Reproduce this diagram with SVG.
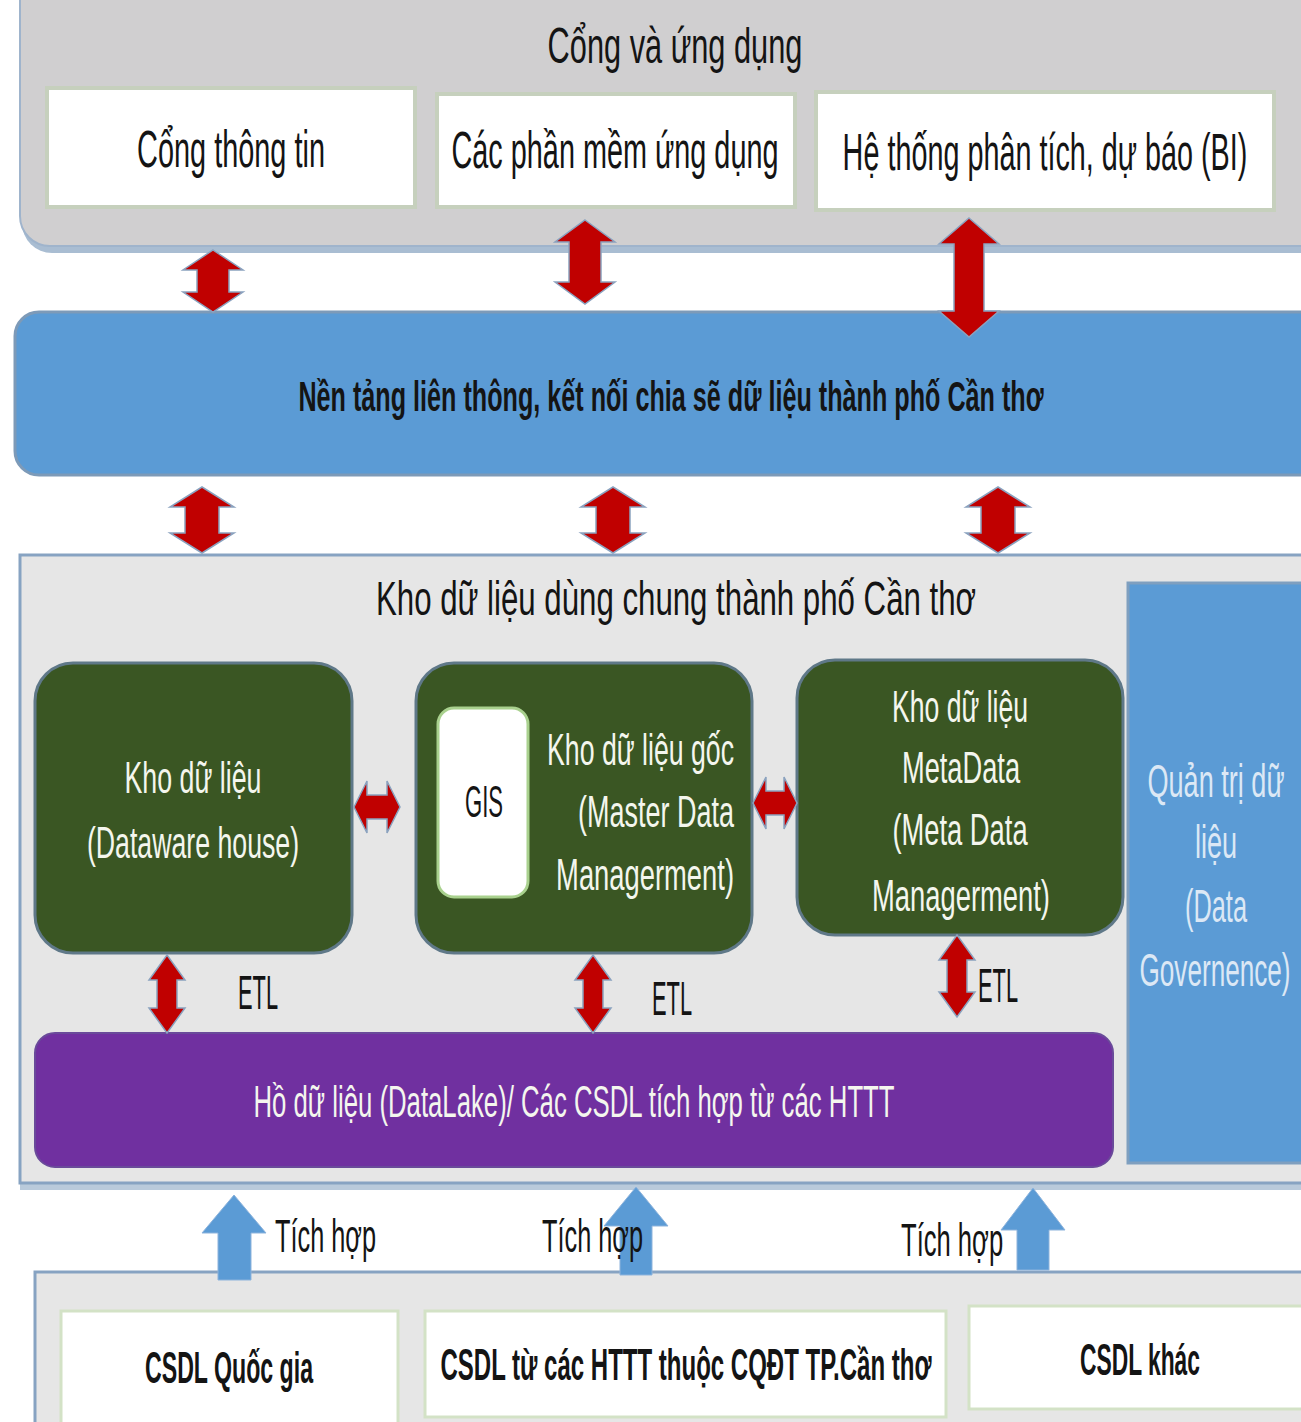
<svg xmlns="http://www.w3.org/2000/svg" width="1301" height="1422" viewBox="0 0 1301 1422">
<style>
text{font-family:"Liberation Sans","Noto Sans",Arial,sans-serif}
.dk{fill:#141414}
.wt{fill:#f4f6ee}
.gv{fill:#dce8f5}
.c{text-anchor:middle}
.e{text-anchor:end}
.wbox{fill:#ffffff;stroke:#c6d0bd;stroke-width:4}
.bbox{fill:#ffffff;stroke:#d3e2c6;stroke-width:3}
.green{fill:#3a5623;stroke:#5f7888;stroke-width:3}
.red{fill:#c00000;stroke:#8aa2bf;stroke-width:1.5}
.blue{fill:#5b9bd5;stroke:#8db3dc;stroke-width:1}
</style>
<rect width="1301" height="1422" fill="#ffffff"/>

<g id="cong-va-ung-dung">
<rect x="22" y="-30" width="1320" height="283" rx="30" fill="#a9bdd2"/>
<rect x="20" y="-30" width="1320" height="276" rx="30" fill="#d0cfd0" stroke="#9fb4cc" stroke-width="2"/>
<text class="dk c" transform="translate(675,63) scale(0.62,1)" font-size="50" textLength="411" lengthAdjust="spacingAndGlyphs">Cổng và ứng dụng</text>
</g>
<g id="cong-thong-tin">
<rect class="wbox" x="47" y="88" width="368" height="119"/>
<text class="dk c" transform="translate(231,167) scale(0.556,1)" font-size="52" textLength="338" lengthAdjust="spacingAndGlyphs">Cổng thông tin</text>
</g>
<g id="phan-mem-ung-dung">
<rect class="wbox" x="437" y="94" width="358" height="113"/>
<text class="dk c" transform="translate(615,168) scale(0.558,1)" font-size="52" textLength="586" lengthAdjust="spacingAndGlyphs">Các phần mềm ứng dụng</text>
</g>
<g id="he-thong-bi">
<rect class="wbox" x="816" y="92" width="458" height="118"/>
<text class="dk c" transform="translate(1045,170) scale(0.556,1)" font-size="52" textLength="728" lengthAdjust="spacingAndGlyphs">Hệ thống phân tích, dự báo (BI)</text>
</g>

<g id="nen-tang-lien-thong">
<rect x="15" y="312" width="1320" height="163" rx="24" fill="#5b9bd5" stroke="#7d9ab8" stroke-width="3"/>
<text class="dk c" transform="translate(671,411) scale(0.6,1)" font-size="42" font-weight="bold" textLength="1242" lengthAdjust="spacingAndGlyphs">Nền tảng liên thông, kết nối chia sẽ dữ liệu thành phố Cần thơ</text>
</g>

<g id="kho-du-lieu-dung-chung">
<rect x="20" y="1180" width="1310" height="10" fill="#b9cadb"/>
<rect x="20" y="555" width="1310" height="628" fill="#e6e6e6" stroke="#87a3c2" stroke-width="3"/>
<text class="dk c" transform="translate(676,615) scale(0.641,1)" font-size="49" textLength="936" lengthAdjust="spacingAndGlyphs">Kho dữ liệu dùng chung thành phố Cần thơ</text>
</g>
<g id="dataware-house">
<rect class="green" x="35" y="663" width="317" height="290" rx="38"/>
<text class="wt c" transform="translate(193,793) scale(0.617,1)" font-size="44" textLength="222" lengthAdjust="spacingAndGlyphs">Kho dữ liệu</text>
<text class="wt c" transform="translate(193,858) scale(0.606,1)" font-size="44" textLength="350" lengthAdjust="spacingAndGlyphs">(Dataware house)</text>
</g>
<g id="master-data">
<rect class="green" x="416" y="663" width="336" height="290" rx="38"/>
<text class="wt e" transform="translate(734,765) scale(0.613,1)" font-size="44" textLength="305" lengthAdjust="spacingAndGlyphs">Kho dữ liệu gốc</text>
<text class="wt e" transform="translate(734,827) scale(0.614,1)" font-size="44" textLength="254" lengthAdjust="spacingAndGlyphs">(Master Data</text>
<text class="wt e" transform="translate(734,890) scale(0.622,1)" font-size="44" textLength="286" lengthAdjust="spacingAndGlyphs">Managerment)</text>
</g>
<g id="gis">
<rect x="438" y="708" width="90" height="189" rx="16" fill="#ffffff" stroke="#a9d18e" stroke-width="3"/>
<text class="dk c" transform="translate(484,817) scale(0.5,1)" font-size="44" textLength="76" lengthAdjust="spacingAndGlyphs">GIS</text>
</g>
<g id="metadata">
<rect class="green" x="797" y="660" width="326" height="275" rx="38"/>
<text class="wt c" transform="translate(960,722) scale(0.613,1)" font-size="44" textLength="222" lengthAdjust="spacingAndGlyphs">Kho dữ liệu</text>
<text class="wt c" transform="translate(961,783) scale(0.618,1)" font-size="44" textLength="191" lengthAdjust="spacingAndGlyphs">MetaData</text>
<text class="wt c" transform="translate(960,845) scale(0.62,1)" font-size="44" textLength="218" lengthAdjust="spacingAndGlyphs">(Meta Data</text>
<text class="wt c" transform="translate(961,911) scale(0.622,1)" font-size="44" textLength="286" lengthAdjust="spacingAndGlyphs">Managerment)</text>
</g>
<g id="data-governance">
<rect x="1128" y="583" width="200" height="580" fill="#5b9bd5" stroke="#7f9fbf" stroke-width="3"/>
<text class="gv c" transform="translate(1216,797) scale(0.596,1)" font-size="46" textLength="230" lengthAdjust="spacingAndGlyphs">Quản trị dữ</text>
<text class="gv c" transform="translate(1216,858) scale(0.586,1)" font-size="46" textLength="72" lengthAdjust="spacingAndGlyphs">liệu</text>
<text class="gv c" transform="translate(1216,922) scale(0.553,1)" font-size="46" textLength="112" lengthAdjust="spacingAndGlyphs">(Data</text>
<text class="gv c" transform="translate(1215,986) scale(0.568,1)" font-size="46" textLength="266" lengthAdjust="spacingAndGlyphs">Governence)</text>
</g>
<g id="datalake">
<rect x="35" y="1033" width="1078" height="134" rx="20" fill="#7030a0" stroke="#6a4a9a" stroke-width="2"/>
<text class="wt c" transform="translate(574,1117) scale(0.575,1)" font-size="45" textLength="1115" lengthAdjust="spacingAndGlyphs">Hồ dữ liệu (DataLake)/ Các CSDL tích hợp từ các HTTT</text>
</g>

<g id="nguon-du-lieu">
<rect x="35" y="1272" width="1300" height="170" fill="#e6e6e6" stroke="#87a3c2" stroke-width="3"/>
</g>
<g id="csdl-quoc-gia">
<rect class="bbox" x="61" y="1311" width="337" height="130"/>
<text class="dk c" transform="translate(229,1383) scale(0.525,1)" font-size="44" font-weight="bold" textLength="320" lengthAdjust="spacingAndGlyphs">CSDL Quốc gia</text>
</g>
<g id="csdl-httt">
<rect class="bbox" x="425" y="1311" width="521" height="106"/>
<text class="dk c" transform="translate(686,1380) scale(0.545,1)" font-size="44" font-weight="bold" textLength="901" lengthAdjust="spacingAndGlyphs">CSDL từ các HTTT thuộc CQĐT TP.Cần thơ</text>
</g>
<g id="csdl-khac">
<rect class="bbox" x="969" y="1306" width="360" height="103"/>
<text class="dk c" transform="translate(1140,1375) scale(0.517,1)" font-size="44" font-weight="bold" textLength="232" lengthAdjust="spacingAndGlyphs">CSDL khác</text>
</g>

<g id="connectors">
<polygon class="red" points="213,250 243,270 229,270 229,292 243,292 213,312 183,292 197,292 197,270 183,270"/>
<polygon class="red" points="585,220 615,242 601,242 601,282 615,282 585,304 555,282 569,282 569,242 555,242"/>
<polygon class="red" points="969,218 999,244 984,244 984,311 999,311 969,337 939,311 954,311 954,244 939,244"/>
<polygon class="red" points="202,487 234,507 219,507 219,533 234,533 202,553 170,533 185,533 185,507 170,507"/>
<polygon class="red" points="613,487 645,507 630,507 630,533 645,533 613,553 581,533 596,533 596,507 581,507"/>
<polygon class="red" points="998,487 1030,507 1015,507 1015,533 1030,533 998,553 966,533 981,533 981,507 966,507"/>
<polygon class="red" points="354,807 367,781 367,795 387,795 387,781 400,807 387,833 387,819 367,819 367,833"/>
<polygon class="red" points="753,803 766,777 766,791 784,791 784,777 797,803 784,829 784,815 766,815 766,829"/>
<polygon class="red" points="167,955 185,980 177,980 177,1008 185,1008 167,1033 149,1008 157,1008 157,980 149,980"/>
<polygon class="red" points="593,955 611,980 603,980 603,1008 611,1008 593,1033 575,1008 583,1008 583,980 575,980"/>
<polygon class="red" points="957,935 975,960 967,960 967,992 975,992 957,1017 939,992 947,992 947,960 939,960"/>
<text class="dk" transform="translate(238,1009) scale(0.455,1)" font-size="48" textLength="88" lengthAdjust="spacingAndGlyphs">ETL</text>
<text class="dk" transform="translate(652,1015) scale(0.455,1)" font-size="48" textLength="88" lengthAdjust="spacingAndGlyphs">ETL</text>
<text class="dk" transform="translate(978,1002) scale(0.455,1)" font-size="48" textLength="88" lengthAdjust="spacingAndGlyphs">ETL</text>
<polygon class="blue" points="234,1195 266,1233 251,1233 251,1280 218,1280 218,1233 202,1233"/>
<polygon class="blue" points="636,1187 668,1226 652,1226 652,1275 620,1275 620,1226 604,1226"/>
<polygon class="blue" points="1033,1188 1065,1230 1049,1230 1049,1270 1017,1270 1017,1230 1001,1230"/>
<text class="dk" transform="translate(275,1252) scale(0.558,1)" font-size="46" textLength="181" lengthAdjust="spacingAndGlyphs">Tích hợp</text>
<text class="dk" transform="translate(542,1252) scale(0.558,1)" font-size="46" textLength="181" lengthAdjust="spacingAndGlyphs">Tích hợp</text>
<text class="dk" transform="translate(901,1256) scale(0.558,1)" font-size="46" textLength="183" lengthAdjust="spacingAndGlyphs">Tích hợp</text>
</g>
</svg>
